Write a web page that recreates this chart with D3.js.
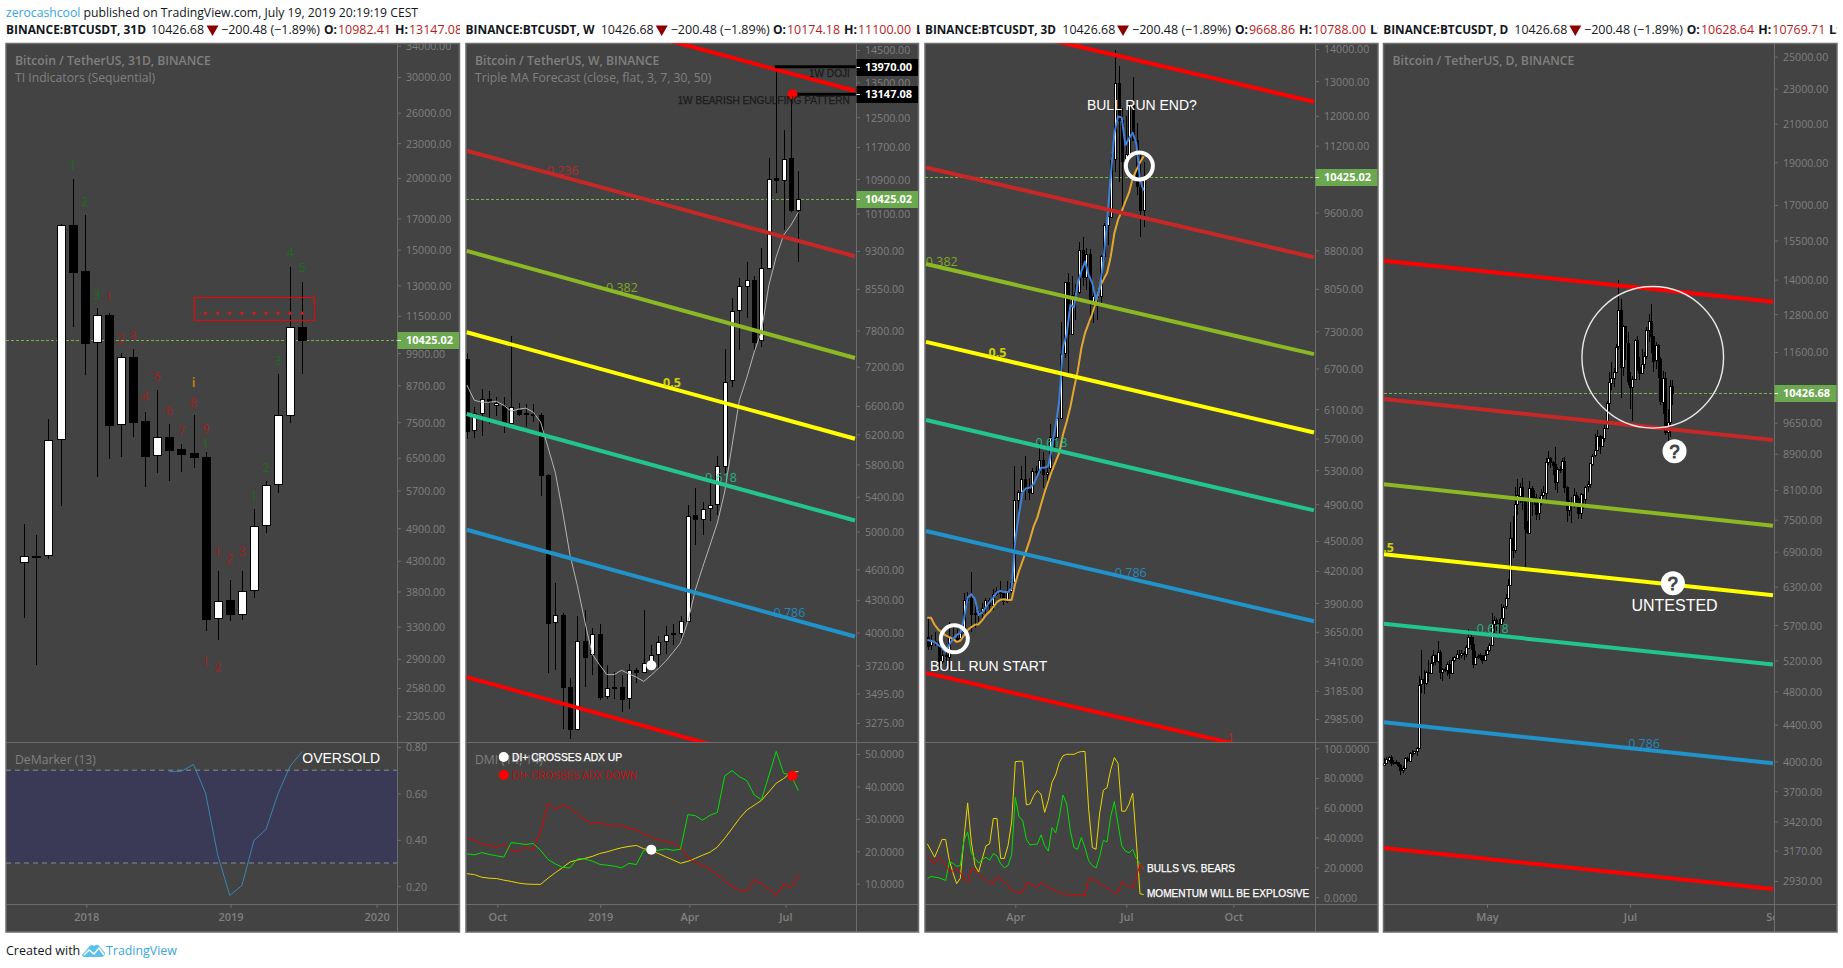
<!DOCTYPE html>
<html><head><meta charset="utf-8">
<script src="https://cdnjs.cloudflare.com/ajax/libs/d3/7.8.5/d3.min.js"></script>
<style>html,body{margin:0;background:#fff}svg{display:block}text{font-family:"Open Sans",sans-serif}</style>
</head><body><svg id="c" width="1843" height="968"></svg>
<script>
// ---------- 31D candles ----------
const monthlyOpen=[4285,4380,4405,7010,16560,13765,10350,11540,7445,9750,7545,6575,7070,6740,6630,6535,3415,3670,3475,3825,4955,5835,7725,10982.41];
const monthlyHigh=[4975,4770,7600,16620,19920,17240,11870,11630,9900,10060,7815,8535,7450,6880,7720,6650,4130,3985,4130,5295,5915,9100,14000,13147.08];
const monthlyLow=[3415,2830,4330,5360,10995,9070,6020,6470,6535,7080,5790,6110,5915,6145,6245,3245,3125,3375,3395,3695,4815,5640,7480,9100];
const monthlyClose=[4385,4385,6985,16560,13710,10310,11540,7415,9750,7510,6550,7070,6720,6615,6535,3405,3660,3465,3815,4950,5825,7705,11010,10426.68];
const demarkerFirstBar=12;
const demarker=[0.695,0.695,0.725,0.60,0.335,0.16,0.203,0.397,0.445,0.60,0.718,0.781];
// TD sequential counts: [bar, price, text]
const seqGreen=[[4,21010,"1"],[5,18190,"2"],[6,12500,"3"],[22,14820,"4"],[23,13950,"5"],[21,9600,"3"],[15,6880,"1"],[19,5580,"1"],[20,6250,"2"]];
const seqRed=[[7,12420,"1"],[8,10470,"2"],[9,10620,"3"],[10,8300,"4"],[11,9010,"5"],[12,7855,"6"],[13,7255,"7"],[14,8100,"8"],[15,7300,"9"],[16,4455,"1"],[17,4325,"2"],[18,4465,"3"],[15,2860,"1"],[16,2800,"2"]];
const seqDotBars=[15,16,17,18,19,20,21,22,23];
const seqDotPrice=11620;
const seqBoxBars=[14.06,24.0], seqBoxPrices=[12370,11290];
const monthlyTicks=[34000,30000,26000,23000,20000,17000,15000,13000,11500,9900,8700,7500,6500,5700,4900,4300,3800,3300,2900,2580,2305];
const monthlyTimeTicks=[5.13,17.06,29.15], monthlyTimeLabels=["2018","2019","2020"];
const demarkerTicks=[0.8,0.6,0.4,0.2];

// ---------- Weekly candles ----------
const weeklyOpen=[7315,6256,6510,6710,6615,6605,6355,6540,6495,6490,6465,5670,4090,4160,3550,3232,3930,3810,3990,3480,3540,3550,3460,3685,3670,3725,3810,3925,3985,3995,4110,5185,5135,5265,5320,5775,6990,8158,8615,8730,7634,8965,10915,10876,11430,10174.18];
const weeklyHigh=[7415,6590,6860,6825,6740,6740,7700,6640,6630,6625,6500,5680,4460,4180,3615,4145,4202,4040,4075,3725,3665,3640,3735,3700,4200,3890,3970,4060,4075,4145,5300,5500,5340,5625,5910,7490,8380,8750,9070,8800,9360,11430,13970,12140,13147.08,11100];
const weeklyLow=[6132,6146,6170,6345,6450,6220,6345,6455,6300,6370,5405,3655,3680,3230,3160,3225,3550,3640,3445,3450,3450,3355,3375,3580,3668,3680,3700,3815,3890,3915,4100,4850,4960,5120,5185,5675,6885,7467,8010,7455,7520,8960,10570,9737,10140,9070];
const weeklyClose=[6245,6495,6710,6660,6650,6360,6590,6485,6480,6470,5668,4085,4155,3545,3232,3925,3795,3985,3475,3540,3550,3460,3680,3670,3740,3810,3915,3975,3995,4105,5180,5135,5255,5300,5780,6960,8150,8600,8730,7620,8960,10905,10870,11400,10178,10426.68];
const weeklyMA=[6910,6685,6655,6655,6670,6610,6525,6555,6570,6510,6370,6025,5695,5220,4745,4435,4100,3815,3725,3645,3645,3680,3650,3625,3590,3640,3695,3755,3830,3910,4100,4392,4620,4850,5095,5460,6050,6685,7025,7430,7790,8620,9180,9630,9845,10130];
const diPlus=[19.2,18.9,19.6,19.05,18.6,18.2,22.7,22.4,22.1,22.4,20.3,17.5,16.1,15.0,14.9,17.7,17.6,17.0,16.0,15.7,15.4,14.9,16.3,15.9,20.3,20.5,20.3,20.7,20.3,20.6,31.3,31.0,29.6,31.1,32.0,43.2,44.9,43.0,41.8,37.4,35.9,43.3,50.8,44.1,43.5,38.7];
const diMinus=[24.0,23.4,22.3,21.7,21.4,22.2,20.3,19.9,21.3,20.6,26.2,34.7,32.9,34.2,33.5,31.2,29.6,28.7,28.7,28.2,27.7,28.0,27.1,26.6,25.3,24.5,23.6,23.0,22.4,21.2,18.0,16.7,15.6,14.5,12.7,10.6,9.1,8.0,7.7,11.3,10.0,8.3,6.5,10.0,8.7,12.8];
const adx=[13.1,12.8,12.0,11.7,11.6,11.1,10.7,10.2,9.9,9.8,9.8,11.7,13.4,15.0,16.7,17.3,17.8,18.4,19.3,19.8,20.5,21.1,21.5,21.8,20.8,20.3,19.3,18.3,17.3,16.3,16.9,17.8,18.8,19.7,21.3,24.0,27.0,30.1,32.7,34.2,35.7,38.3,41.0,42.4,44.3,44.6];
const weeklyTicks=[14500,13500,12500,11700,10900,10100,9300,8550,7800,7200,6600,6200,5800,5400,5000,4600,4300,4000,3720,3495,3275];
const weeklyTimeTicks=[4.11,18.1,30.2,43.26], weeklyTimeLabels=["Oct","2019","Apr","Jul"];
const dmiTicks=[50,40,30,20,10];
// fib channel: [label, price at left end, price at right end, colour]
const weeklyFibs=[[0,16700,13250,"#ff0000"],[0.236,11605,9190,"#c62828"],[0.382,9300,7340,"#8cb824"],[0.5,7770,6140,"#ffff00"],[0.618,6485,5124,"#22c48f"],[0.786,5020,3965,"#2193cb"],[1,3625,2860,"#ff0000"]];
const weeklyFibBars=[-0.04,52.7];
const weeklyFibLabels=[["0.236",13.0,11100,"#c62828"],["0.382",21.05,8580,"#8cb824"],["0.5",27.85,6957,"#e6e600"],["0.618",34.5,5630,"#22c48f"],["0.786",43.8,4177,"#2193cb"]];

// ---------- 3D candles ----------
const threeOpen=[3610,3535,3570,3570,3410,3460,3450,3610,3600,3600,3650,3930,3950,3810,3810,3825,3860,3925,3880,3980,4010,3990,3920,4010,4100,4950,5040,5190,5070,5030,5290,5280,5430,5260,5320,5720,5720,5980,6930,8170,7250,7940,7990,8800,8270,8730,7810,7925,7920,8680,9320,9520,10850,12930,11880,10820,10980,12290,11340,10190,9668.86];
const threeHigh=[3780,3620,3650,3580,3490,3490,3730,3690,3670,3670,3990,4000,4190,3890,3850,3900,3950,3950,4030,4050,4100,4010,4100,4120,5350,5060,5350,5470,5200,5330,5350,5640,5530,5320,5900,5840,6020,7450,8160,8350,8300,8140,8960,9070,8850,8820,8150,8030,8700,9380,9600,11000,13970,13450,12230,12000,12370,13130,11800,11100,10788];
const threeLow=[3500,3500,3530,3350,3390,3370,3350,3590,3560,3580,3620,3880,3650,3680,3730,3760,3790,3830,3840,3960,3950,3880,3900,3990,4090,4750,5030,4950,4950,5020,5200,5260,5090,5140,5280,5580,5660,5980,6870,6620,7250,7500,7950,8110,8030,7450,7440,7500,7800,8600,8900,9500,10550,10300,9700,10750,10980,11580,10000,9070,9290];
const threeClose=[3535,3570,3570,3410,3460,3450,3610,3600,3600,3650,3930,3950,3810,3810,3825,3860,3925,3880,3980,4010,3990,3920,4010,4085,4950,5040,5190,5070,5030,5290,5280,5430,5260,5280,5720,5720,5980,6930,8170,7250,7940,7990,8800,8270,8730,7810,7925,7920,8680,9320,9520,10850,12930,11880,10820,10980,12290,11340,10190,9669,10426.68];
const threeFast=[3581,3575,3565,3540,3520,3485,3545,3591,3625,3640,3760,3950,3980,3935,3795,3815,3865,3910,3950,4000,4010,4000,4000,4035,4518,4790,5045,5082,5090,5135,5230,5330,5330,5350,5590,5875,6230,7045,7240,7755,7715,8155,8380,8575,8315,8155,7850,8060,8575,9365,10430,11525,11985,11955,11215,11395,11540,11260,10350,10095];
const threeSlow=[3770,3770,3710,3668,3645,3620,3605,3591,3565,3575,3620,3665,3690,3710,3715,3750,3795,3825,3865,3910,3930,3935,3925,3930,4085,4200,4300,4405,4518,4655,4750,4895,5040,5165,5295,5405,5520,5755,5925,6130,6400,6660,7020,7270,7440,7610,7820,8075,8220,8350,8670,9150,9440,9625,9845,10050,10390,10590,10780,10930];
const bullsYellow=[35.8,31.4,26.8,32.6,38.7,38.7,24.8,16.3,9.0,12.7,39.4,63.3,37.0,21.2,16.8,26.0,34.5,35.8,52.8,52.8,26.0,26.0,34.5,50.4,91.0,91.2,91.2,62.0,62.5,68.1,71.5,69.1,56.9,65.0,77.1,82.0,90.5,94.9,95.9,95.9,95.9,97.1,97.8,97.8,58.9,33.3,32.1,56.4,71.8,73.5,85.6,93.7,89.8,57.7,57.7,62.5,69.8,37.0,2.2,1.7];
const bullsGreen=[12.2,13.9,13.4,13.1,12.2,11.2,23.6,22.9,20.7,21.2,38.2,43.8,29.7,26.0,22.9,25.3,26.8,24.8,29.2,27.7,22.4,19.7,21.2,28.5,66.9,54.0,51.6,38.9,35.0,35.5,35.5,41.8,34.5,30.9,46.7,43.1,54.0,68.6,62.5,44.3,33.3,32.1,40.1,33.3,24.3,21.2,19.5,27.3,38.2,37.0,54.0,64.2,49.1,34.5,30.9,29.7,32.1,26.0,22.4,18.5];
const bullsRed=[27.3,24.3,22.4,26.8,24.8,21.7,17.5,17.5,19.2,16.3,12.2,10.2,19.2,18.0,15.1,13.1,11.4,9.5,9.0,13.6,12.2,9.7,8.5,4.4,3.6,2.9,3.4,9.7,9.0,7.8,6.3,9.7,8.3,6.6,5.4,4.4,2.9,2.2,1.9,1.9,1.7,1.5,1.2,1.2,11.9,11.9,10.7,9.0,7.8,6.3,4.4,2.9,3.4,10.2,8.5,7.3,6.1,12.7,22.4,18.2];
const threeTicks=[14000,13000,12000,11200,9600,8800,8050,7300,6700,6100,5700,5300,4900,4500,4200,3900,3650,3410,3185,2985];
const threeTimeTicks=[24.33,55.17,84.9], threeTimeLabels=["Apr","Jul","Oct"];
const bullsTicks=[100,80,60,40,20,0];
const threeFibs=[[0,15290,12398,"#ff0000"],[0.236,10650,8660,"#c62828"],[0.382,8525,6925,"#8cb824"],[0.5,7125,5780,"#ffff00"],[0.618,5950,4830,"#22c48f"],[0.786,4605,3740,"#2193cb"],[1,3320,2703,"#ff0000"]];
const threeFibBars=[-0.47,107.3];
const threeFibLabels=[["0.382",3.9,8570,"#8cb824"],["0.5",19.4,6955,"#e6e600"],["0.618",34.4,5645,"#22c48f"],["0.786",56.4,4185,"#2193cb"],["1",84.2,2860,"#c62828"]];

// ---------- Daily candles, 18 Mar - 19 Jul 2019 ----------
const dailyClose=[3980,4020,4050,3990,3990,3990,3960,3910,3930,4030,4010,4090,4085,4105,4140,4880,4950,4900,5040,5040,5170,5270,5190,5310,5040,5080,5070,5150,5030,5200,5240,5290,5270,5300,5280,5380,5530,5430,5150,5250,5260,5280,5210,5280,5340,5410,5720,5780,5725,5720,5810,5980,6110,6320,7150,6930,7810,7990,8170,7880,7330,7250,8150,7950,7940,7620,7870,7990,8050,8720,8800,8720,8660,8270,8550,8550,8730,8160,7690,7810,7790,8000,7925,7630,8010,7920,8170,8220,8680,8860,8980,9320,9080,9270,9520,10160,10720,10850,11020,11760,12930,11160,12400,11880,10760,10590,10820,11980,11150,10980,11230,11480,12290,12570,12100,11340,11800,11380,10190,10850,9420,9670,10628.64,10426.68];
const dailyHigh=[4030,4040,4060,4070,4010,4010,3990,3970,3950,4050,4040,4100,4120,4110,4150,5000,5350,5070,5060,5210,5260,5350,5270,5470,5340,5100,5110,5180,5200,5250,5260,5340,5350,5350,5330,5410,5640,5620,5530,5330,5290,5300,5280,5340,5380,5440,5880,5840,5800,5790,6020,6000,6180,6430,7450,7580,8160,8330,8250,8360,7930,7480,8300,8180,8100,8020,7950,8130,8180,8800,8960,8830,8740,9070,8590,8630,8800,8820,8190,7900,7950,8150,8050,7970,8030,8020,8190,8300,8700,8900,9380,9470,9350,9330,9600,10220,11000,11300,11130,11840,13970,13300,12450,12400,12230,11000,10900,12000,12080,11440,11700,11600,12370,12800,13130,12100,11900,11840,11450,11050,11020,9990,10780,10769.71];
const dailyLow=[3960,3970,3990,3950,3960,3970,3940,3860,3880,3920,3990,3990,4045,4080,4060,4130,4780,4770,4880,4920,5030,5120,5140,5170,4960,4930,5040,5000,4950,5020,5180,5230,5210,5230,5200,5250,5370,5340,5100,5140,5220,5200,5150,5200,5280,5320,5400,5530,5620,5590,5700,5750,5950,6100,6320,6780,6880,7600,7840,7690,6620,7230,7250,7580,7800,7500,7500,7800,7950,7900,8650,8570,8430,8110,8030,8460,8530,8040,7450,7570,7440,7740,7790,7510,7520,7700,7800,8050,8150,8620,8820,8970,8900,9050,9170,9520,9950,10500,10580,10970,11650,10300,10900,11350,10650,10000,9700,10810,11050,10780,10980,11100,11400,11900,11580,11020,11100,10830,10100,9860,9350,9070,9290,10100];
const dailyFirstDay=new Date(2019,2,18);
const dailyOpen=dailyClose.map((c,i)=>i?dailyClose[i-1]:3960);
const dailyTicks=[25000,23000,21000,19000,17000,15500,14000,12800,11600,9650,8900,8100,7500,6900,6300,5700,5200,4800,4400,4000,3700,3420,3170,2930];
const dailyTimeTicks=[new Date(2019,4,1),new Date(2019,6,1),new Date(2019,8,1)], dailyTimeLabels=["May","Jul","Sep"];
const dailyFibs=[[0,14708,13220,"#ff0000"],[0.236,10262,9225,"#c62828"],[0.382,8222,7383,"#8cb824"],[0.5,6853,6160,"#ffff00"],[0.618,5722,5144,"#22c48f"],[0.786,4427,3980,"#2193cb"],[1,3192,2870,"#ff0000"]];
const dailyFibDates=[new Date(2019,2,18),new Date(2019,7,31)];
const dailyFibLabels=[["0.5",new Date(2019,2,18,12),6966,"#e6e600"],["0.618",new Date(2019,4,3,10),5642,"#22c48f"],["0.786",new Date(2019,6,7),4188,"#2193cb"]];

// ---------- Header strings ----------
const headerRow=[
 {name:"BINANCE:BTCUSDT, 31D",o:"10982.41",h:"13147.08",l:""},
 {name:"BINANCE:BTCUSDT, W",o:"10174.18",h:"11100.00",l:"L"},
 {name:"BINANCE:BTCUSDT, 3D",o:"9668.86",h:"10788.00",l:"L:"},
 {name:"BINANCE:BTCUSDT, D",o:"10628.64",h:"10769.71",l:"L:"}];
const headerLast="10426.68", headerChange="−200.48 (−1.89%)";

// ---------- Drawing ----------
const svg=d3.select("#c");
const GREY="#808080",BG="#434343",EDGE="#6c6c6c",ARIAL='"Liberation Sans",Arial,sans-serif';
const defs=svg.append("defs");
let clipN=0;
function clip(x0,y0,x1,y1){const id="c"+(++clipN);defs.append("clipPath").attr("id",id).append("rect").attr("x",x0).attr("y",y0).attr("width",x1-x0).attr("height",y1-y0);return `url(#${id})`;}

function panel(p){
  const g=svg.append("g");
  g.append("rect").attr("x",p.x0).attr("y",p.top).attr("width",p.x1-p.x0).attr("height",p.bottom-p.top).attr("fill",BG).attr("stroke",EDGE).attr("stroke-width",1.5);
  p.mainClip=clip(p.x0,p.top,p.ax,p.paneDiv);
  p.lowClip=clip(p.x0,p.paneDiv,p.ax,p.timeDiv);
  p.g=g;
  return p;
}
function frame(p){
  const g=p.g.append("g").attr("stroke",EDGE).attr("stroke-width",1).attr("shape-rendering","crispEdges");
  g.append("line").attr("x1",p.ax+.5).attr("x2",p.ax+.5).attr("y1",p.top).attr("y2",p.bottom);
  if(p.paneDiv<p.timeDiv) g.append("line").attr("x1",p.x0).attr("x2",p.x1).attr("y1",p.paneDiv+.5).attr("y2",p.paneDiv+.5);
  g.append("line").attr("x1",p.x0).attr("x2",p.x1).attr("y1",p.timeDiv+.5).attr("y2",p.timeDiv+.5);
}
function priceAxis(p,scale,ticks,fmt,yMin,yMax){
  const a=p.g.append("g").attr("transform",`translate(${p.ax},0)`).attr("clip-path",clip(0,yMin,p.x1-p.ax,yMax))
    .call(d3.axisRight(scale).tickValues(ticks).tickFormat(fmt).tickSize(4).tickPadding(5));
  a.select(".domain").remove();
  a.selectAll("line").attr("stroke",EDGE);
  a.selectAll("text").attr("fill",GREY).attr("font-size",10.6).attr("dy","0.37em").style("font-family",'"Open Sans",sans-serif');
}
function timeAxis(p,scale,ticks,labels){
  const a=p.g.append("g").attr("transform",`translate(0,${p.timeDiv})`).attr("clip-path",clip(p.x0,0,p.ax,p.bottom-p.timeDiv))
    .call(d3.axisBottom(scale).tickValues(ticks).tickFormat((d,i)=>labels[i]).tickSize(4).tickPadding(5));
  a.select(".domain").remove();
  a.selectAll("line").attr("stroke",EDGE);
  a.selectAll("text").attr("fill",GREY).attr("font-size",11).attr("font-weight",600).style("font-family",'"Open Sans",sans-serif');
}
function candles(p,x,y,O,H,L,C,w,xs){
  const g=p.g.append("g").attr("clip-path",p.mainClip);
  const idx=d3.range(C.length);
  const cx=i=>Math.round(x(xs?xs[i]:i))+.5;
  g.selectAll(".w").data(idx).join("line").attr("x1",cx).attr("x2",cx).attr("y1",i=>y(H[i])).attr("y2",i=>y(L[i])).attr("stroke","#000").attr("shape-rendering","crispEdges");
  g.selectAll(".b").data(idx).join("rect")
    .attr("x",i=>cx(i)-w/2).attr("width",w)
    .attr("y",i=>Math.round(Math.min(y(O[i]),y(C[i])))+.5)
    .attr("height",i=>Math.max(1,Math.round(Math.abs(y(O[i])-y(C[i])))))
    .attr("fill",i=>C[i]>=O[i]?"#fff":"#000").attr("stroke","#000").attr("shape-rendering","crispEdges");
}
function series(p,x,y,vals,color,width,clipId,offset){
  p.g.append("path").attr("clip-path",clipId).attr("fill","none").attr("stroke",color).attr("stroke-width",width).attr("stroke-linejoin","round")
    .attr("d",d3.line().x((d,i)=>x(i+(offset||0))).y(d=>y(d))(vals));
}
function fibs(p,x,y,levels,ends,width){
  p.g.append("g").attr("clip-path",p.mainClip).selectAll("line").data(levels).join("line")
    .attr("x1",x(ends[0])).attr("x2",x(ends[1])).attr("y1",d=>y(d[1])).attr("y2",d=>y(d[2])).attr("stroke",d=>d[3]).attr("stroke-width",width);
}
function fibLabels(p,x,y,labs){
  p.g.append("g").attr("clip-path",p.mainClip).selectAll("text").data(labs).join("text")
    .attr("x",d=>x(d[1])).attr("y",d=>y(d[2])).attr("dy","0.35em").attr("text-anchor","middle").attr("font-size",12.5).attr("font-weight",d=>d[0]==="0.5"?700:400).attr("fill",d=>d[3]).attr("opacity",.85).text(d=>d[0]);
}
function lastPrice(p,y,price){
  const yy=Math.round(y(price));
  p.g.append("line").attr("x1",p.x0).attr("x2",p.ax).attr("y1",yy+.5).attr("y2",yy+.5).attr("stroke","#72b44a").attr("stroke-dasharray","3,2").attr("shape-rendering","crispEdges");
}
function badge(p,yy,txt,fill){
  p.g.append("rect").attr("x",p.ax+.5).attr("y",yy-8).attr("width",p.x1-p.ax-1).attr("height",17).attr("fill",fill);
  p.g.append("line").attr("x1",p.ax+.5).attr("x2",p.ax+4).attr("y1",yy+.5).attr("y2",yy+.5).attr("stroke","#fff");
  p.g.append("text").attr("x",p.ax+9).attr("y",yy+.5).attr("dy","0.35em").attr("fill","#fff").attr("font-size",11).attr("font-weight",700).text(txt);
}
function titleText(p,lines,y0){
  lines.forEach((t,i)=>p.g.append("text").attr("x",p.x0+9).attr("y",y0+i*17).attr("dy","0.35em").attr("fill",GREY).attr("font-size",12.2).attr("font-weight",i?400:600).text(t));
}
function note(g,x,y,t,size,anchor,fill,thick){
  const n=g.append("text").attr("x",x).attr("y",y).attr("dy","0.35em").attr("text-anchor",anchor||"start").attr("fill",fill||"#fff")
    .attr("font-size",size).style("font-family",ARIAL).text(t);
  if(thick) n.attr("stroke",fill).attr("stroke-width",thick);
  return n;
}
// header: each entry places one piece of the legend at the offset
function header(x1,h,pos){
  const c=clip(pos.name-1,20,x1,40);
  const g=svg.append("g").attr("clip-path",c).attr("font-size",12.6);
  const seg=(s,x,w,fit,f)=>{const t=g.append("text").attr("x",x).attr("y",34).attr("font-weight",w?700:400).attr("fill",f||"#131722").text(s);
    if(fit) t.attr("textLength",fit).attr("lengthAdjust","spacingAndGlyphs");return t;};
  seg(h.name,pos.name,1,pos.nameW);
  seg(headerLast,pos.last,0,53);
  g.append("path").attr("d",d3.symbol().type(d3.symbolTriangle).size(62)()).attr("transform",`translate(${pos.tri},29) rotate(180)`).attr("fill","#8b0000");
  seg(headerChange,pos.chg,0,99);
  seg("O:",pos.oL,1,13); seg(h.o,pos.o,0,pos.oW,"#b71c1c");
  seg("H:",pos.hL,1,13); seg(h.h,pos.h,0,53,"#b71c1c");
  if(h.l) seg(h.l,pos.lL,1);
}

const PT=43.5,PB=932,PD=742,TD=904;
const fmt2=d3.format(".2f"), fmt4=d3.format(".4f");

// ===== Panel 1 =====
{
 const p=panel({x0:6,x1:459.5,ax:397,top:PT,bottom:PB,paneDiv:PD,timeDiv:TD});
 const x=d3.scaleLinear().domain([0,23]).range([24.3,302.3]);
 const y=d3.scaleLog().domain([30000,2305]).range([77,716]);
 const v=d3.scaleLinear().domain([0.8,0.2]).range([747,886.2]);
 p.g.append("rect").attr("x",p.x0+.5).attr("width",p.ax-p.x0).attr("y",v(0.7)).attr("height",v(0.3)-v(0.7)).attr("fill","#3b3a56");
 [0.7,0.3].forEach(l=>p.g.append("line").attr("x1",p.x0).attr("x2",p.ax).attr("y1",v(l)).attr("y2",v(l)).attr("stroke","#8c8c8c").attr("stroke-dasharray","5,4"));
 lastPrice(p,y,10425.02);
 candles(p,x,y,monthlyOpen,monthlyHigh,monthlyLow,monthlyClose,8);
 const seq=p.g.append("g").attr("clip-path",p.mainClip);
 const sq=(arr,col)=>seq.append("g").selectAll("text").data(arr).join("text").attr("x",d=>x(d[0])).attr("y",d=>y(d[1])).attr("dy","0.35em").attr("text-anchor","middle").attr("fill",col).attr("font-size",12).text(d=>d[2]);
 sq(seqGreen,"#1a6f1a"); sq(seqRed,"#a81c1c");
 seq.append("text").attr("x",x(14)).attr("y",y(8770)).attr("dy","0.35em").attr("text-anchor","middle").attr("fill","#c07a12").attr("font-size",12).attr("font-weight",700).text("i");
 seq.append("g").selectAll("circle").data(seqDotBars).join("circle").attr("cx",d=>x(d)).attr("cy",y(seqDotPrice)).attr("r",1.7).attr("fill","#c81e1e");
 seq.append("rect").attr("x",x(seqBoxBars[0])).attr("width",x(seqBoxBars[1])-x(seqBoxBars[0])).attr("y",y(seqBoxPrices[0])).attr("height",y(seqBoxPrices[1])-y(seqBoxPrices[0])).attr("fill","none").attr("stroke","#ff0000").attr("stroke-width",1);
 series(p,x,v,demarker,"#3c85ae",1,p.lowClip,demarkerFirstBar);
 frame(p);
 priceAxis(p,y,monthlyTicks,fmt2,PT,PD);
 priceAxis(p,v,demarkerTicks,fmt2,PD,TD);
 badge(p,Math.round(y(10425.02)),"10425.02","#6ba84f");
 timeAxis(p,x,monthlyTimeTicks,monthlyTimeLabels);
 titleText(p,["Bitcoin / TetherUS, 31D, BINANCE","TI Indicators (Sequential)"],60.5);
 p.g.append("text").attr("x",p.x0+9).attr("y",759.5).attr("dy","0.35em").attr("fill",GREY).attr("font-size",12.2).text("DeMarker (13)");
 note(p.g,x(23),758,"OVERSOLD",14);
}
// ===== Panel 2 =====
{
 const p=panel({x0:466,x1:918.5,ax:856,top:PT,bottom:PB,paneDiv:PD,timeDiv:TD});
 const x=d3.scaleLinear().domain([0,45]).range([467,798.3]);
 const y=d3.scaleLog().domain([14500,3275]).range([50,723]);
 const v=d3.scaleLinear().domain([50,10]).range([754,883.7]);
 lastPrice(p,y,10425.02);
 candles(p,x,y,weeklyOpen,weeklyHigh,weeklyLow,weeklyClose,4);
 series(p,x,y,weeklyMA,"#b4b4b4",1,p.mainClip);
 fibs(p,x,y,weeklyFibs,weeklyFibBars,4);
 fibLabels(p,x,y,weeklyFibLabels);
 const ann=p.g.append("g").attr("clip-path",p.mainClip);
 ann.append("line").attr("x1",x(41.8)).attr("x2",x(52.8)).attr("y1",y(13970)).attr("y2",y(13970)).attr("stroke","#000").attr("stroke-width",3);
 ann.append("line").attr("x1",x(44.3)).attr("x2",x(52.8)).attr("y1",y(13147.08)).attr("y2",y(13147.08)).attr("stroke","#000").attr("stroke-width",3);
 ann.append("circle").attr("cx",x(44.2)).attr("cy",y(13147.08)).attr("r",5).attr("fill","#ff0000");
 ann.append("circle").attr("cx",x(25.03)).attr("cy",y(3720)).attr("r",5).attr("fill","#fff");
 note(ann,x(52),y(13780),"1W DOJI",10.1,"end","#1c1c1c",0.25);
 note(ann,x(52),y(12982),"1W BEARISH ENGULFING PATTERN",10.1,"end","#1c1c1c",0.25);
 series(p,x,v,adx,"#e8d800",1,p.lowClip);
 series(p,x,v,diMinus,"#e00000",1,p.lowClip);
 series(p,x,v,diPlus,"#00e000",1,p.lowClip);
 p.g.append("circle").attr("cx",x(25.03)).attr("cy",v(20.5)).attr("r",5).attr("fill","#fff");
 p.g.append("circle").attr("cx",x(44.2)).attr("cy",v(43.3)).attr("r",5).attr("fill","#ff0000");
 frame(p);
 priceAxis(p,y,weeklyTicks,fmt2,PT,PD);
 priceAxis(p,v,dmiTicks,fmt4,PD,TD);
 badge(p,Math.round(y(13970)),"13970.00","#000");
 badge(p,Math.round(y(13147.08)),"13147.08","#000");
 badge(p,Math.round(y(10425.02)),"10425.02","#6ba84f");
 timeAxis(p,x,weeklyTimeTicks,weeklyTimeLabels);
 titleText(p,["Bitcoin / TetherUS, W, BINANCE","Triple MA Forecast (close, flat, 3, 7, 30, 50)"],60.5);
 p.g.append("text").attr("x",p.x0+9).attr("y",760).attr("dy","0.35em").attr("fill",GREY).attr("font-size",12.2).text("DMI (14, 14)");
 p.g.append("circle").attr("cx",503.7).attr("cy",757).attr("r",5).attr("fill","#fff");
 p.g.append("circle").attr("cx",503.7).attr("cy",775).attr("r",5).attr("fill","#ff0000");
 note(p.g,512,757.5,"DI+ CROSSES ADX UP",10.3,"start","#fff",0.25);
 note(p.g,512,775.5,"DI+ CROSSES ADX DOWN",10,"start","#c01010");
}
// ===== Panel 3 =====
{
 const p=panel({x0:925,x1:1378,ax:1315,top:PT,bottom:PB,paneDiv:PD,timeDiv:TD});
 const x=d3.scaleLinear().domain([0,60]).range([927.7,1143.7]);
 const xl=d3.scaleLinear().domain([0,59]).range([927.3,1143.7]);
 const y=d3.scaleLog().domain([14000,2985]).range([49,719]);
 const v=d3.scaleLinear().domain([100,0]).range([748.2,897.1]);
 lastPrice(p,y,10425.02);
 candles(p,x,y,threeOpen,threeHigh,threeLow,threeClose,2);
 series(p,xl,y,threeSlow,"#e3a72f",2,p.mainClip);
 series(p,xl,y,threeFast,"#3f80d8",2,p.mainClip);
 fibs(p,x,y,threeFibs,threeFibBars,4);
 fibLabels(p,x,y,threeFibLabels);
 const ann=p.g.append("g").attr("clip-path",p.mainClip);
 [[58.8,10690],[7.4,3591]].forEach(d=>ann.append("circle").attr("cx",x(d[0])).attr("cy",y(d[1])).attr("r",13.5).attr("fill","none").attr("stroke","#fff").attr("stroke-width",4));
 note(ann,x(59.5),y(12305),"BULL RUN END?",14,"middle");
 note(ann,x(0.64),y(3375),"BULL RUN START",14);
 series(p,xl,v,bullsYellow,"#e8d800",1,p.lowClip);
 series(p,xl,v,bullsGreen,"#00e000",1,p.lowClip);
 series(p,xl,v,bullsRed,"#e00000",1,p.lowClip);
 note(p.g,x(60.9),v(19.2),"BULLS VS. BEARS",10.1,"start","#fff",0.25);
 note(p.g,x(60.9),v(2.4),"MOMENTUM WILL BE EXPLOSIVE",10.1,"start","#fff",0.25);
 frame(p);
 priceAxis(p,y,threeTicks,fmt2,PT,PD);
 priceAxis(p,v,bullsTicks,fmt4,PD,TD);
 badge(p,Math.round(y(10425.02)),"10425.02","#6ba84f");
 timeAxis(p,x,threeTimeTicks,threeTimeLabels);
}
// ===== Panel 4 =====
{
 const p=panel({x0:1383.5,x1:1837,ax:1774,top:PT,bottom:PB,paneDiv:TD,timeDiv:TD});
 const x=d3.scaleTime().domain([new Date(2019,4,1),new Date(2019,6,1)]).range([1487,1630]);
 const y=d3.scaleLog().domain([25000,2930]).range([56.7,881]);
 const days=dailyClose.map((c,i)=>d3.timeDay.offset(dailyFirstDay,i));
 lastPrice(p,y,10426.68);
 candles(p,x,y,dailyOpen,dailyHigh,dailyLow,dailyClose,1.5,days);
 fibs(p,x,y,dailyFibs,dailyFibDates,4);
 fibLabels(p,x,y,dailyFibLabels);
 const ann=p.g.append("g").attr("clip-path",p.mainClip);
 ann.append("circle").attr("cx",x(new Date(2019,6,10,17))).attr("cy",y(11440)).attr("r",70.8).attr("fill","none").attr("stroke","#e8e8e8").attr("stroke-width",1.4);
 [[new Date(2019,6,20),8958],[new Date(2019,6,19,7),6355]].forEach(d=>{
   ann.append("circle").attr("cx",x(d[0])).attr("cy",y(d[1])).attr("r",12).attr("fill","#fff");
   note(ann,x(d[0]),y(d[1]),"?",18,"middle","#434343",1);
 });
 note(ann,x(new Date(2019,6,20)),y(6008),"UNTESTED",16,"middle");
 frame(p);
 priceAxis(p,y,dailyTicks,fmt2,PT,TD);
 badge(p,Math.round(y(10426.68)),"10426.68","#6ba84f");
 timeAxis(p,x,dailyTimeTicks,dailyTimeLabels);
 titleText(p,["Bitcoin / TetherUS, D, BINANCE"],60.5);
}
// ===== Headers & footer =====
const top1=svg.append("text").attr("x",6).attr("y",17).attr("font-size",12.2).attr("fill","#131722");
top1.append("tspan").attr("fill","#37a6de").text("zerocashcool");
top1.append("tspan").text(" published on TradingView.com, July 19, 2019 20:19:19 CEST");
header(460,headerRow[0],{name:6,nameW:140,last:151,tri:212.5,chg:221,oL:324,o:338,oW:53,hL:395,h:409,lL:465});
header(920,headerRow[1],{name:465.5,nameW:129,last:600.7,tri:661.7,chg:670.7,oL:773,o:787,oW:53,hL:844,h:858,lL:916});
header(1378,headerRow[2],{name:925,nameW:131,last:1062.3,tri:1123,chg:1132,oL:1235,o:1249,oW:46,hL:1299,h:1313,lL:1370});
header(1837,headerRow[3],{name:1383.3,nameW:125,last:1514.3,tri:1575.3,chg:1584,oL:1686.7,o:1701,oW:53,hL:1758.3,h:1772.3,lL:1829});
svg.append("text").attr("x",6).attr("y",955).attr("font-size",12.5).attr("fill","#131722").text("Created with");
svg.append("path").attr("d","M82 955 L88 948 Q91 943 94 946 Q98 943 100 947 L105 953 Q105 957 101 957 L86 957 Q82 957 82 955Z").attr("fill","#5cc0ec");
svg.append("path").attr("d","M84 955 L89 950 L94 954 L99 948 L104 955").attr("fill","none").attr("stroke","#fff").attr("stroke-width",1.5);
svg.append("text").attr("x",106).attr("y",955).attr("font-size",12.4).attr("fill","#37a6de").text("TradingView");
</script></body></html>
